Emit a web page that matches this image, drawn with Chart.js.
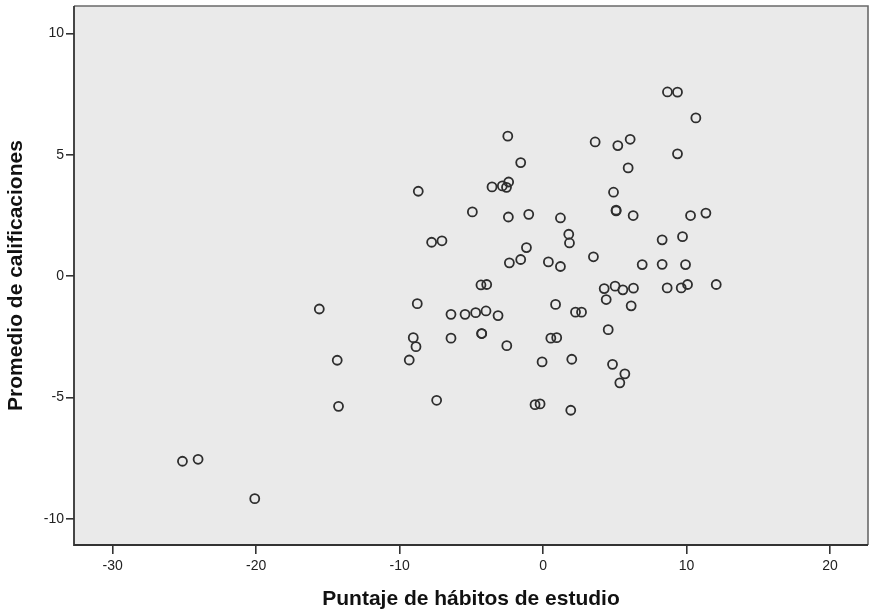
<!DOCTYPE html>
<html>
<head>
<meta charset="utf-8">
<script src="https://cdn.jsdelivr.net/npm/chart.js@4/dist/chart.umd.min.js"></script>
<style>
  html, body { margin: 0; padding: 0; background: #fff; overflow: hidden; }
  #wrap { width: 869px; height: 613px; }
  canvas { display: block; }
</style>
</head>
<body>
<div id="wrap"><canvas id="c" width="869" height="613"></canvas></div>
<script>
// Puntaje de hábitos de estudio (x) vs. promedio de calificaciones (y)
const habitos = [
  -25.14, -24.05, -20.10, -15.60, -14.35, -14.26, -9.33, -9.05, -8.86, -8.77,
  -8.70, -7.77, -7.05, -7.42, -6.42, -6.42, -5.44, -4.93, -4.70, -4.33,
  -3.93, -3.98, -4.28, -4.28, -3.56, -2.84, -2.40, -2.55, -3.14, -2.53,
  -2.46, -2.42, -2.35, -1.56, -1.56, -1.16, -1.00, -0.56, -0.21, -0.07,
  0.37, 0.54, 0.95, 0.87, 1.21, 1.21, 1.79, 1.84, 1.93, 2.00,
  2.26, 2.68, 3.51, 3.63, 4.26, 4.40, 4.54, 4.84, 4.91, 5.02,
  5.09, 5.09, 5.21, 5.35, 5.56, 5.70, 5.93, 6.07, 6.14, 6.28,
  6.30, 6.91, 8.30, 8.30, 8.65, 8.67, 9.37, 9.37, 9.63, 9.72,
  9.93, 10.07, 10.28, 10.65, 11.35, 12.07
];
const promedio = [
  -7.62, -7.54, -9.16, -1.35, -3.46, -5.36, -3.45, -2.53, -2.90, -1.13,
  3.50, 1.40, 1.46, -5.11, -1.57, -2.55, -1.57, 2.65, -1.50, -0.36,
  -0.34, -1.43, -2.36, -2.36, 3.68, 3.72, 3.88, 3.66, -1.62, -2.86,
  5.77, 2.44, 0.55, 4.68, 0.69, 1.18, 2.55, -5.29, -5.26, -3.53,
  0.59, -2.55, -2.53, -1.16, 2.40, 0.40, 1.73, 1.37, -5.52, -3.42,
  -1.48, -1.48, 0.80, 5.53, -0.51, -0.96, -2.20, -3.63, 3.46, -0.41,
  2.69, 2.72, 5.38, -4.39, -0.56, -4.02, 4.46, 5.64, -1.22, 2.50,
  -0.49, 0.48, 1.50, 0.49, -0.48, 7.59, 7.58, 5.04, -0.48, 1.63,
  0.48, -0.34, 2.50, 6.52, 2.60, -0.34
];
const xTicks = [-30, -20, -10, 0, 10, 20];
const yTicks = [-10, -5, 0, 5, 10];

const points = habitos.map((x, i) => ({ x: x, y: promedio[i] }));

const FONT = "'Liberation Sans', Arial, sans-serif";

// plot-area fill and frame
const framePlugin = {
  id: 'frame',
  beforeDraw(chart) {
    const { ctx, chartArea: a } = chart;
    ctx.save();
    ctx.fillStyle = '#eaeaea';
    ctx.fillRect(a.left, a.top, a.right - a.left, a.bottom - a.top);
    ctx.restore();
  },
  afterDraw(chart) {
    const { ctx, chartArea: a } = chart;
    ctx.save();
    ctx.strokeStyle = '#6a6a6a';
    ctx.lineWidth = 1.6;
    ctx.beginPath();
    ctx.moveTo(a.left, a.top);
    ctx.lineTo(a.right, a.top);
    ctx.lineTo(a.right, a.bottom);
    ctx.stroke();
    ctx.strokeStyle = '#333';
    ctx.lineWidth = 1.8;
    ctx.beginPath();
    ctx.moveTo(a.left, a.top);
    ctx.lineTo(a.left, a.bottom);
    ctx.lineTo(a.right, a.bottom);
    ctx.stroke();
    ctx.restore();
  }
};

function noPad(scale) {
  scale.paddingLeft = 0;
  scale.paddingRight = 0;
  scale.paddingTop = 0;
  scale.paddingBottom = 0;
}

new Chart(document.getElementById('c'), {
  type: 'scatter',
  data: {
    datasets: [{
      data: points,
      pointStyle: 'circle',
      pointRadius: 4.5,
      pointHoverRadius: 4.5,
      backgroundColor: 'rgba(0,0,0,0)',
      borderColor: '#2e2e2e',
      borderWidth: 1.8
    }]
  },
  options: {
    responsive: false,
    animation: false,
    events: [],
    layout: { autoPadding: false, padding: { left: 0, top: 6, right: 1, bottom: 0 } },
    plugins: { legend: { display: false }, tooltip: { enabled: false } },
    scales: {
      x: {
        type: 'linear',
        min: -32.7,
        max: 22.65,
        afterBuildTicks(scale) { scale.ticks = xTicks.map(v => ({ value: v })); },
        afterFit(scale) { scale.height = 68; noPad(scale); },
        border: { display: false },
        grid: { drawOnChartArea: false, drawTicks: true, tickLength: 9, color: '#333', lineWidth: 1.6 },
        ticks: { padding: 4, color: '#222', font: { family: FONT, size: 14 } },
        title: {
          display: true,
          text: 'Puntaje de hábitos de estudio',
          color: '#111',
          font: { family: FONT, size: 21, weight: 'bold' },
          padding: { top: 0, bottom: 1.5 }
        }
      },
      y: {
        type: 'linear',
        min: -11.07,
        max: 11.13,
        afterBuildTicks(scale) { scale.ticks = yTicks.map(v => ({ value: v })); },
        afterFit(scale) { scale.width = 74; noPad(scale); },
        border: { display: false },
        grid: { drawOnChartArea: false, drawTicks: true, tickLength: 8, color: '#333', lineWidth: 1.6 },
        ticks: { padding: 2, color: '#222', font: { family: FONT, size: 14 } },
        title: {
          display: true,
          text: 'Promedio de calificaciones',
          color: '#111',
          font: { family: FONT, size: 21, weight: 'bold' },
          padding: { top: 4, bottom: 0 }
        }
      }
    }
  },
  plugins: [framePlugin]
});
</script>
</body>
</html>
